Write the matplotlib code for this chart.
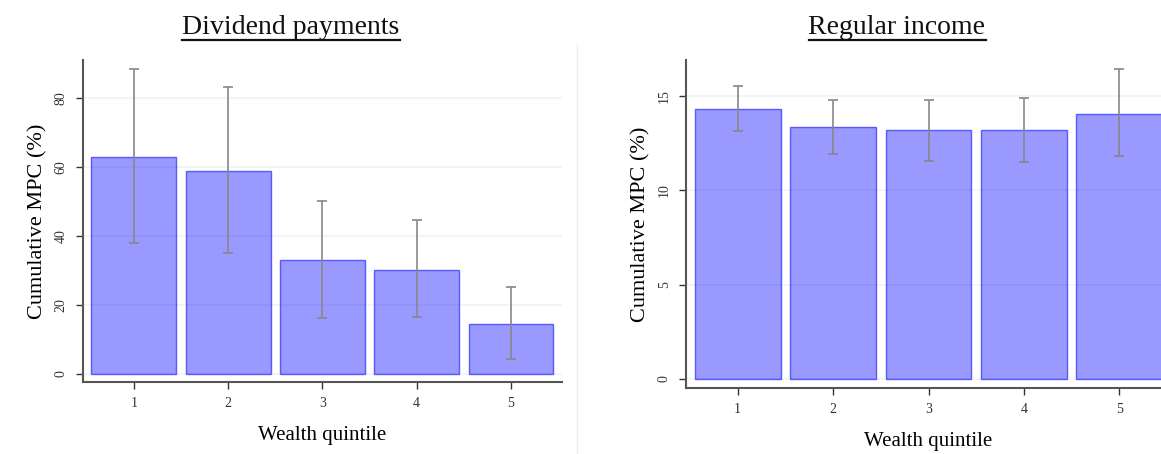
import numpy as np
import matplotlib
matplotlib.use("Agg")
import matplotlib.pyplot as plt
from matplotlib.lines import Line2D

plt.rcParams['font.family'] = ['Liberation Serif', 'DejaVu Serif']

# Point estimates and confidence bounds by wealth quintile
quintiles = [1, 2, 3, 4, 5]

div_mpc = [63.0, 58.8, 33.0, 30.1, 14.5]
div_lo = [38.0, 35.0, 16.2, 16.5, 4.3]
div_hi = [88.4, 83.2, 50.2, 44.5, 25.2]

inc_mpc = [14.3, 13.36, 13.2, 13.2, 14.05]
inc_lo = [13.15, 11.93, 11.56, 11.5, 11.82]
inc_hi = [15.53, 14.79, 14.8, 14.9, 16.44]

titles = ["Dividend payments", "Regular income"]
y_ticks = [[0, 20, 40, 60, 80], [0, 5, 10, 15]]
y_lims = [(-2.3, 91.0), (-0.48, 16.9)]


def panel(ax, vals, lo, hi, yticks, ylim):
    vals = np.array(vals)
    err = [vals - np.array(lo), np.array(hi) - vals]
    ax.bar(quintiles, vals, width=0.9, color=(0, 0, 1, 0.4),
           edgecolor=(0.2, 0.2, 1, 0.75), linewidth=1.0, zorder=2)
    ax.errorbar(quintiles, vals, yerr=err, fmt='none', ecolor='#888888',
                elinewidth=1.2, capsize=3.5, capthick=1.2, zorder=4)
    ax.set_xlim(0.46, 5.54)
    ax.set_ylim(*ylim)
    ax.set_xticks(quintiles)
    ax.set_yticks(yticks)
    ax.yaxis.grid(True, color='#edf3f6', linewidth=1.2, zorder=1)
    ax.set_axisbelow(True)
    for s in ['top', 'right']:
        ax.spines[s].set_visible(False)
    for s in ['left', 'bottom']:
        ax.spines[s].set_color('#555555')
        ax.spines[s].set_linewidth(1.5)
    ax.tick_params(axis='both', direction='out', length=5, width=1,
                   color='#333333', labelsize=10, labelcolor='#333333', pad=6)
    for lab in ax.get_yticklabels():
        lab.set_rotation(90)
        lab.set_va('center')
    ax.set_ylabel("Cumulative MPC (%)", fontsize=16, labelpad=5)
    ax.set_xlabel("Wealth quintile", fontsize=15, labelpad=11)


fig = plt.figure(figsize=(11.61, 4.54), dpi=100)
ax1 = fig.add_axes([0.0715, 0.1586, 0.4125, 0.7093])
ax2 = fig.add_axes([0.5909, 0.1454, 0.4177, 0.7225])

panel(ax1, div_mpc, div_lo, div_hi, y_ticks[0], y_lims[0])
panel(ax2, inc_mpc, inc_lo, inc_hi, y_ticks[1], y_lims[1])

# faint divider between the two panels
fig.add_artist(Line2D([577 / 1161, 577 / 1161], [0, 1 - 45 / 454],
                      color='#eeeeee', linewidth=1))

# underlined panel titles
title_x = [291 / 1161, 897 / 1161]
heads = []
for tx, t in zip(title_x, titles):
    heads.append(fig.text(tx, 1 - 34 / 454, t, ha='center', va='baseline',
                          fontsize=20, color='#111111'))

fig.canvas.draw()
r = fig.canvas.get_renderer()
for h in heads:
    bb = h.get_window_extent(renderer=r).transformed(fig.transFigure.inverted())
    yl = 1 - 40 / 454
    fig.add_artist(Line2D([bb.x0, bb.x1], [yl, yl], color='#111111',
                          linewidth=1.6))

fig.savefig("out.png", dpi=100)
